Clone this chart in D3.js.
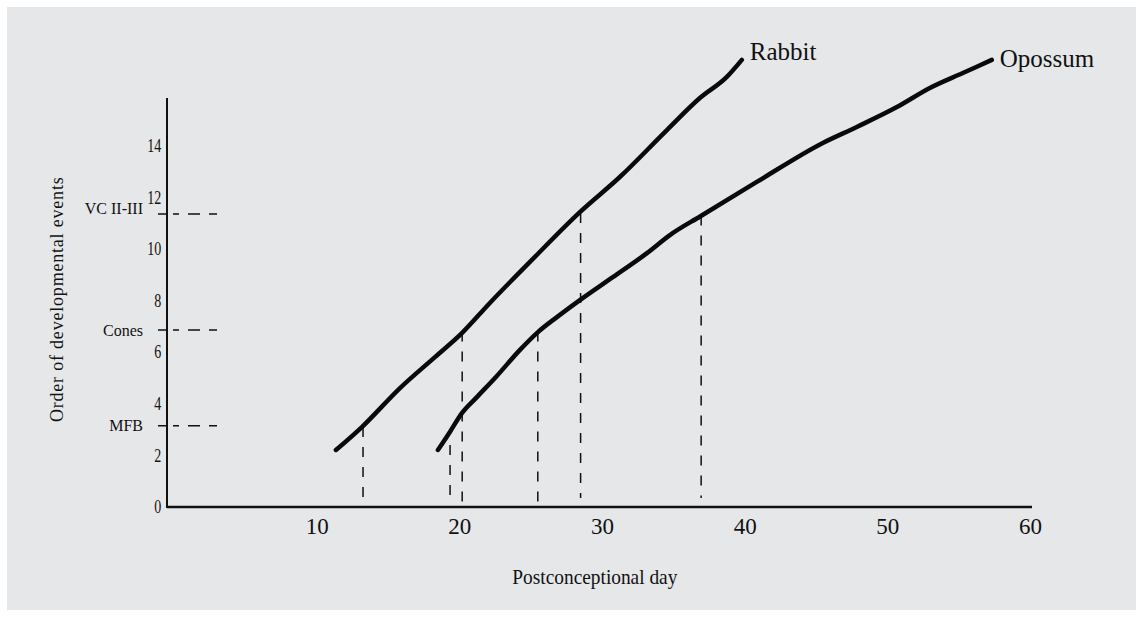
<!DOCTYPE html>
<html>
<head>
<meta charset="utf-8">
<script src="https://cdn.jsdelivr.net/npm/d3@7"></script>
<style>
  html, body { margin: 0; padding: 0; background: #fff; }
  svg { display: block; }
  text { font-family: "Liberation Serif", "Times New Roman", serif; fill: #111; }
</style>
</head>
<body>
<svg id="chart"></svg>
<script>
// Rabbit curve (postconceptional day, order of events)
const rabbitDay   = [11.35, 13.17, 15.84, 18.29, 20.18, 22.14, 24.95, 28.45, 31.25, 34.55, 36.86, 38.75, 39.8];
const rabbitOrder = [2.21, 3.10, 4.61, 5.81, 6.74, 7.91, 9.50, 11.43, 12.79, 14.61, 15.85, 16.67, 17.33];

// Opossum curve
const opossumDay   = [18.5, 19.34, 20.18, 21.23, 22.63, 24.25, 25.51, 26.84, 28.45, 30.76, 33.15, 34.76, 36.93, 40.85, 45.48, 47.86, 50.67, 52.98, 55.29, 57.32];
const opossumOrder = [2.21, 2.91, 3.64, 4.26, 5.08, 6.09, 6.78, 7.36, 8.02, 8.91, 9.84, 10.54, 11.28, 12.60, 14.11, 14.73, 15.50, 16.24, 16.82, 17.33];

// Marked developmental events
const eventNames  = ['MFB', 'Cones', 'VC II-III'];
const eventLevels = [3.15, 6.86, 11.36];

// Dashed drop lines (day, top, bottom)
const dropDays    = [13.25, 20.2, 28.5, 19.35, 25.5, 36.95];
const dropTops    = [3.1, 6.8, 11.4, 2.4, 6.8, 11.3];
const dropBottoms = [0.35, 0, 0.35, 0.35, 0, 0.35];

const xTicks = [10, 20, 30, 40, 50, 60];
const yTicks = [0, 2, 4, 6, 8, 10, 12, 14];

const W = 1143, H = 617;

const svg = d3.select('#chart')
  .attr('width', W)
  .attr('height', H);

// grey panel
svg.append('rect')
  .attr('x', 7).attr('y', 7)
  .attr('width', 1129).attr('height', 603)
  .attr('fill', '#e6e7e9');

const x = d3.scaleLinear().domain([0, 60]).range([174, 1030]);
const y = d3.scaleLinear().domain([0, 16]).range([507, 94.2]);

const axisX = x(0) - 7;

// axes lines
svg.append('line')
  .attr('x1', axisX).attr('x2', axisX)
  .attr('y1', y(15.85)).attr('y2', y(0) + 1)
  .attr('stroke', '#111').attr('stroke-width', 2);

svg.append('line')
  .attr('x1', axisX).attr('x2', x(60) + 2)
  .attr('y1', y(0)).attr('y2', y(0))
  .attr('stroke', '#111').attr('stroke-width', 2.5);

// x ticks
const xAxisG = svg.append('g')
  .attr('transform', `translate(0,${y(0)})`)
  .call(d3.axisBottom(x).tickValues(xTicks).tickSize(0).tickPadding(11).tickFormat(d3.format('d')));
xAxisG.select('.domain').remove();
xAxisG.selectAll('text')
  .style('font-family', '"Liberation Serif", serif')
  .style('font-size', '23px')
  .attr('fill', '#111');

// y ticks (narrow digits like the original)
const yAxisG = svg.append('g')
  .attr('transform', `translate(${axisX},0)`)
  .call(d3.axisLeft(y).tickValues(yTicks).tickSize(0).tickPadding(7).tickFormat(d3.format('d')));
yAxisG.select('.domain').remove();
yAxisG.selectAll('text')
  .attr('x', -7.5)
  .attr('transform', 'scale(0.78,1)')
  .style('font-family', '"Liberation Serif", serif')
  .style('font-size', '18px')
  .attr('fill', '#111');

// event markers on the y axis
const evG = svg.append('g');
eventLevels.forEach((v, i) => {
  evG.append('line')
    .attr('x1', axisX - 9).attr('x2', axisX + 50)
    .attr('y1', y(v)).attr('y2', y(v))
    .attr('stroke', '#111').attr('stroke-width', 1.5)
    .attr('stroke-dasharray', '9,6,6,9,12,9,8');
  evG.append('text')
    .attr('x', 143)
    .attr('y', y(v) + (i === 2 ? -6 : 0))
    .attr('dy', '0.35em')
    .attr('text-anchor', 'end')
    .style('font-size', '16px')
    .text(eventNames[i]);
});

// dashed drop lines
dropDays.forEach((d, i) => {
  svg.append('line')
    .attr('x1', x(d)).attr('x2', x(d))
    .attr('y1', y(dropTops[i])).attr('y2', y(dropBottoms[i]))
    .attr('stroke', '#111').attr('stroke-width', 1.5)
    .attr('stroke-dasharray', '10,10');
});

// curves
const line = d3.line()
  .x(d => x(d[0]))
  .y(d => y(d[1]))
  .curve(d3.curveMonotoneX);

const series = [
  { name: 'Rabbit', pts: rabbitDay.map((d, i) => [d, rabbitOrder[i]]), dy: 0 },
  { name: 'Opossum', pts: opossumDay.map((d, i) => [d, opossumOrder[i]]), dy: 7 }
];

svg.selectAll('.curve')
  .data(series)
  .join('path')
  .attr('class', 'curve')
  .attr('d', d => line(d.pts))
  .attr('fill', 'none')
  .attr('stroke', '#0a0a0a')
  .attr('stroke-width', 4.5)
  .attr('stroke-linecap', 'round')
  .attr('stroke-linejoin', 'round');

// series labels at line ends
svg.selectAll('.series-label')
  .data(series)
  .join('text')
  .attr('class', 'series-label')
  .attr('x', d => x(d.pts[d.pts.length - 1][0]) + 8)
  .attr('y', d => y(d.pts[d.pts.length - 1][1]) + d.dy)
  .style('font-size', '25px')
  .text(d => d.name);

// axis titles
svg.append('text')
  .attr('transform', `translate(${x(29.5)},584) scale(0.88,1)`)
  .attr('text-anchor', 'middle')
  .style('font-size', '22px')
  .text('Postconceptional day');

svg.append('text')
  .attr('transform', `translate(63,${y(8.05)}) rotate(-90)`)
  .attr('text-anchor', 'middle')
  .style('font-size', '18px')
  .style('letter-spacing', '0.8px')
  .text('Order of developmental events');
</script>
</body>
</html>
